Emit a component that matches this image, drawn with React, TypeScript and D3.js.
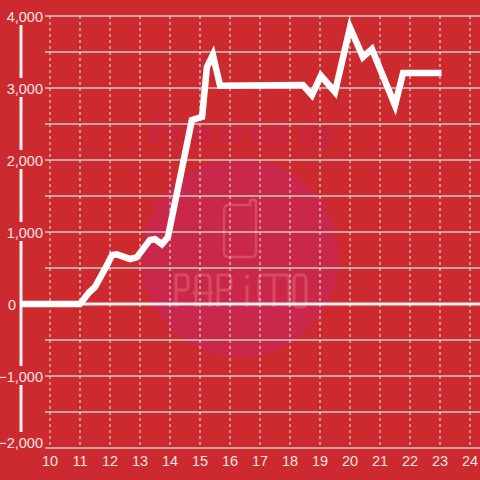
import React from "react";
import * as d3 from "d3";

const hours = [9, 11, 11.3, 11.5, 11.9, 12.07, 12.23, 12.67, 12.9, 13.33, 13.5, 13.73, 13.93, 14.73, 15.07, 15.23, 15.43, 15.67, 18.43, 18.73, 19.03, 19.5, 20.0, 20.43, 20.73, 21.5, 21.77, 23.05];
const values = [0, 0, 160, 236, 540, 680, 690, 625, 650, 890, 900, 830, 930, 2555, 2600, 3290, 3460, 3030, 3040, 2900, 3170, 2945, 3840, 3430, 3540, 2760, 3210, 3210];
const xTicks = [10, 11, 12, 13, 14, 15, 16, 17, 18, 19, 20, 21, 22, 23, 24];
const yTicks = [-2000, -1000, 0, 1000, 2000, 3000, 4000];
const yGrid = d3.range(-2000, 4001, 500);

const BG = "#cc2a2f";
const WM = "#d64b60";

export default function App() {
  const x = d3.scaleLinear().domain([9, 24]).range([20, 470]);
  const y = d3.scaleLinear().domain([-2000, 4000]).range([448, 16]);
  const pts: [number, number][] = hours.map((h, i) => [h, values[i]]);
  const line = d3.line<[number, number]>().x((d) => x(d[0])).y((d) => y(d[1]));
  const fmt = d3.format(",");
  const font = "Liberation Sans, Arial, sans-serif";
  return (
    <svg width={480} height={480} style={{ position: "absolute", left: 0, top: 0, display: "block" }}>
      <rect x={0} y={0} width={480} height={480} fill={BG} />
      {/* watermark */}
      <circle cx={240} cy={258} r={99} fill="#c9284a" />
      <text x={243} y={143} textAnchor="middle" fontFamily={font} fontWeight="bold" fontStyle="italic" fontSize={32} letterSpacing={1} fill="#c82744">Powered by</text>
      <path d="M229,205 H250 V201 Q250,200 251,200 H255 Q256,200 256,201 V252 Q256,257 251,257 H229 Q224,257 224,252 V210 Q224,205 229,205 Z" fill="none" stroke={WM} strokeWidth={2.5} />
      <g fill="none" stroke={WM} strokeWidth={3}>
        <path d="M176,307 V275 H184 Q188,275 188,279 V286 Q188,290 184,290 H176" />
        <path d="M196,307 V279 Q196,275 200,275 H206 Q210,275 210,279 V307 M193,293 H213" />
        <path d="M218,307 V275 H227 Q231,275 231,279 V286 Q231,290 227,290 H218" />
        <path d="M247,307 V285" />
        <path d="M259,307 V279 Q259,275 263,275 H285 Q289,275 289,279 V307 M274,275 V307" />
        <rect x={294} y={275} width={12} height={32} rx={4} />
      </g>
      <circle cx={247} cy={277} r={2.2} fill={WM} />
      {/* grid */}
      {yGrid.map((v) => (
        <line key={"h" + v} x1={45} x2={480} y1={y(v)} y2={y(v)} stroke="#c9c9c9" strokeWidth={1.5} />
      ))}
      {xTicks.map((t) => (
        <line key={"v" + t} x1={x(t)} x2={x(t)} y1={16} y2={448} stroke="#e8e8e8" strokeWidth={1} strokeDasharray="3,3" />
      ))}
      {/* zero line */}
      <line x1={21} x2={480} y1={y(0)} y2={y(0)} stroke="#f4f0f0" strokeWidth={3} />
      {/* y axis line */}
      <line x1={21} x2={21} y1={8} y2={448} stroke="#f2f2f2" strokeWidth={3} />
      {yTicks.map((t, i) => {
        const cy = y(t) + (i === 0 ? -6 : 0);
        if (t === 0) {
          return (
            <text key={"yl" + t} x={16} y={cy + 5.5} textAnchor="end" fontFamily={font} fontSize={14.5} fill="#f5e4e4">{fmt(t)}</text>
          );
        }
        return (
          <g key={"yl" + t}>
            <rect x={3} y={cy - 10} width={41} height={19} fill={BG} />
            <text x={43} y={cy + 5.5} textAnchor="end" fontFamily={font} fontSize={14.5} fill="#f5e4e4">{fmt(t)}</text>
          </g>
        );
      })}
      {xTicks.map((t) => (
        <text key={"xl" + t} x={x(t)} y={466} textAnchor="middle" fontFamily={font} fontSize={14.5} fill="#f5e4e4">{t}</text>
      ))}
      <path d={line(pts) || ""} fill="none" stroke="#ffffff" strokeWidth={6.5} strokeLinejoin="miter" strokeLinecap="butt" />
    </svg>
  );
}
